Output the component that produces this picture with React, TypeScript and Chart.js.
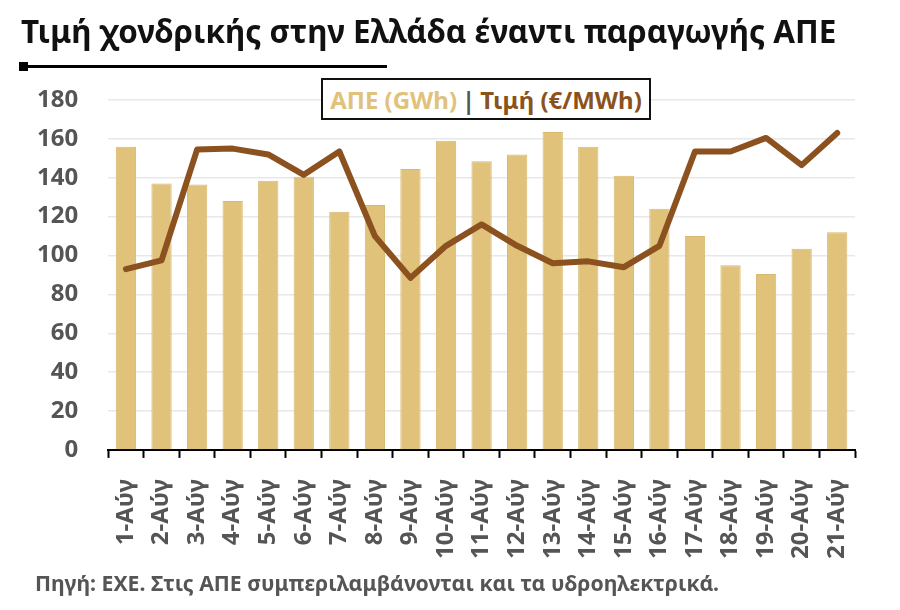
import { useEffect, useRef } from 'react';
import Chart from 'chart.js/auto';

const days = [
  '1-Αύγ', '2-Αύγ', '3-Αύγ', '4-Αύγ', '5-Αύγ', '6-Αύγ', '7-Αύγ',
  '8-Αύγ', '9-Αύγ', '10-Αύγ', '11-Αύγ', '12-Αύγ', '13-Αύγ', '14-Αύγ',
  '15-Αύγ', '16-Αύγ', '17-Αύγ', '18-Αύγ', '19-Αύγ', '20-Αύγ', '21-Αύγ'
];
const apeGWh = [156, 137, 136.5, 128, 138.5, 140.5, 122.5, 126, 144.5, 159, 148.5, 152, 163.5, 156, 141, 124, 110, 95, 90.5, 103.5, 112];
const priceEur = [93, 97.5, 154.5, 155, 152, 141.5, 153.5, 110, 88.5, 105, 116, 105, 96, 97, 94, 105, 153.5, 153.5, 160.5, 146.5, 163];

const FONT = '"Noto Sans", "Open Sans", sans-serif';
const BAR = '#E0C27B';
const LINE = '#8B5220';
const GREY = '#555555';

export default function App() {
  const canvasRef = useRef<HTMLCanvasElement | null>(null);

  useEffect(() => {
    if (!canvasRef.current) return;
    const chart = new Chart(canvasRef.current, {
      type: 'bar',
      data: {
        labels: days,
        datasets: [
          {
            type: 'line',
            label: 'Τιμή (€/MWh)',
            data: priceEur,
            borderColor: LINE,
            backgroundColor: LINE,
            borderWidth: 6,
            pointRadius: 0,
            tension: 0,
            borderCapStyle: 'round',
            borderJoinStyle: 'round',
            order: 0
          },
          {
            type: 'bar',
            label: 'ΑΠΕ (GWh)',
            data: apeGWh,
            backgroundColor: BAR,
            borderColor: '#D8B96F',
            borderWidth: 1,
            barPercentage: 0.57,
            categoryPercentage: 1,
            order: 1
          }
        ]
      },
      options: {
        animation: false,
        responsive: false,
        maintainAspectRatio: false,
        layout: { padding: { top: 100, left: 7, right: 45, bottom: 30 } },
        plugins: { legend: { display: false }, tooltip: { enabled: false } },
        scales: {
          x: {
            offset: true,
            grid: {
              offset: true,
              drawOnChartArea: false,
              drawTicks: true,
              tickLength: 8,
              tickWidth: 2,
              tickColor: '#000'
            },
            border: { display: true, color: '#000', width: 2 },
            ticks: {
              minRotation: 90,
              maxRotation: 90,
              autoSkip: false,
              padding: 21,
              color: GREY,
              font: { family: FONT, size: 24, weight: 'bold' }
            }
          },
          y: {
            min: 0,
            max: 180,
            ticks: {
              stepSize: 20,
              padding: 30,
              color: GREY,
              font: { family: FONT, size: 24, weight: 'bold' }
            },
            grid: { color: '#e8e8e8', lineWidth: 1.5, drawTicks: false },
            border: { display: false }
          }
        }
      }
    });
    return () => chart.destroy();
  }, []);

  return (
    <div style={{ position: 'absolute', left: 0, top: 0, width: 900, height: 610, background: '#fff', fontFamily: FONT, overflow: 'hidden' }}>
      <canvas ref={canvasRef} width={900} height={610} style={{ position: 'absolute', left: 0, top: 0, width: 900, height: 610 }} />
      <div style={{ position: 'absolute', left: 21, top: 9, fontSize: 31.4, fontWeight: 700, color: '#111', whiteSpace: 'nowrap' }}>
        Τιμή χονδρικής στην Ελλάδα έναντι παραγωγής ΑΠΕ
      </div>
      <div style={{ position: 'absolute', left: 19, top: 62, width: 9, height: 9, background: '#000' }} />
      <div style={{ position: 'absolute', left: 22, top: 65, width: 365, height: 3, background: '#000' }} />
      <div style={{ position: 'absolute', left: 321, top: 78, width: 330, height: 42, border: '2px solid #111', background: '#fff', boxSizing: 'border-box', display: 'flex', alignItems: 'center', justifyContent: 'center', fontSize: 24, fontWeight: 700, whiteSpace: 'nowrap' }}>
        <span style={{ color: BAR }}>ΑΠΕ (GWh)</span>
        <span style={{ color: GREY, margin: '0 5px' }}>|</span>
        <span style={{ color: LINE }}>Τιμή (€/MWh)</span>
      </div>
      <div style={{ position: 'absolute', left: 35, top: 568, fontSize: 21.2, fontWeight: 700, color: GREY, whiteSpace: 'nowrap' }}>
        Πηγή: ΕΧΕ. Στις ΑΠΕ συμπεριλαμβάνονται και τα υδροηλεκτρικά.
      </div>
    </div>
  );
}
